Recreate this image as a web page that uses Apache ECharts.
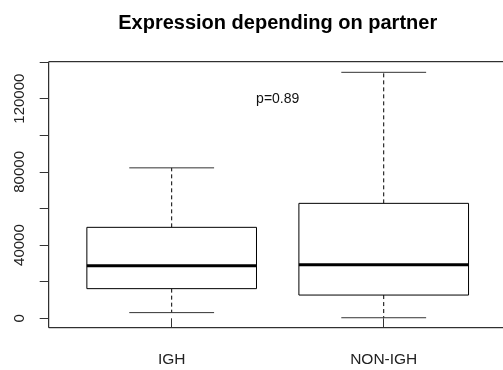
<!DOCTYPE html>
<html>
<head>
<meta charset="utf-8">
<script src="https://cdn.jsdelivr.net/npm/echarts@6/dist/echarts.min.js"></script>
<style>html,body{margin:0;padding:0;background:#fff}#c{width:503px;height:370px}</style>
</head>
<body>
<div id="c"></div>
<script>
// ---- data ----
const categories = ['IGH', 'NON-IGH'];
const lowerWhisker = [3100, 300];
const q1 = [16200, 12700];
const median = [28700, 29300];
const q3 = [49700, 62800];
const upperWhisker = [82200, 134400];
const yTickValues = [0, 20000, 40000, 60000, 80000, 100000, 120000, 140000];
const yLabelValues = [0, 40000, 80000, 120000];
const titleText = 'Expression depending on partner';
const pText = 'p=0.89';
const pPos = [1.5, 120000];

const FONT = '"Liberation Sans", Arial, sans-serif';
const boxData = categories.map((c, i) => [i + 1, lowerWhisker[i], q1[i], median[i], q3[i], upperWhisker[i]]);

const chart = echarts.init(document.getElementById('c'), null, {renderer: 'canvas'});
chart.setOption({
  animation: false,
  backgroundColor: '#fff',
  title: {
    text: titleText,
    left: 277.7, top: 13, padding: 0, textAlign: 'center',
    textStyle: {fontFamily: FONT, fontWeight: 'bold', fontSize: 20, color: '#000'}
  },
  grid: {
    left: 48.7, width: 458, top: 61.7, bottom: 42.3,
    outerBoundsMode: 'none', containLabel: false,
    show: true, borderColor: '#000', borderWidth: 1, backgroundColor: 'transparent'
  },
  xAxis: {
    type: 'value', min: 0.42, max: 2.58,
    axisLine: {show: false},
    splitLine: {show: false},
    axisTick: {show: true, length: 9, customValues: [1, 2], lineStyle: {color: '#333'}},
    axisLabel: {
      customValues: [1, 2], margin: 24, fontSize: 15.5, fontFamily: FONT, color: '#222',
      formatter: v => categories[Math.round(v) - 1]
    }
  },
  yAxis: {
    type: 'value', min: -5140, max: 140200,
    axisLine: {show: false},
    splitLine: {show: false},
    axisTick: {show: true, length: 9, customValues: yTickValues, lineStyle: {color: '#333'}},
    axisLabel: {
      customValues: yLabelValues, rotate: 90, margin: 21, fontSize: 15, fontFamily: FONT, color: '#222',
      formatter: v => String(v)
    }
  },
  series: [
    {
      type: 'custom',
      data: boxData,
      encode: {x: 0, y: [1, 2, 3, 4, 5]},
      renderItem: function (params, api) {
        const x = api.value(0);
        const halfBox = 0.4, halfCap = 0.2;
        const p = (xx, yy) => api.coord([xx, yy]);
        const lw = p(x, api.value(1)), b1 = p(x, api.value(2)), md = p(x, api.value(3)),
              b3 = p(x, api.value(4)), uw = p(x, api.value(5));
        const bl = p(x - halfBox, 0)[0], br = p(x + halfBox, 0)[0];
        const cl = p(x - halfCap, 0)[0], cr = p(x + halfCap, 0)[0];
        const line = (x1, y1, x2, y2, w, dash, col) => ({
          type: 'line', shape: {x1, y1, x2, y2},
          style: {stroke: col || '#000', lineWidth: w, lineDash: dash || null}
        });
        return {
          type: 'group',
          children: [
            line(lw[0], b1[1], lw[0], lw[1], 1, [4, 3]),
            line(uw[0], b3[1], uw[0], uw[1], 1, [4, 3]),
            line(cl, lw[1], cr, lw[1], 1, null, '#333'),
            line(cl, uw[1], cr, uw[1], 1, null, '#333'),
            {type: 'rect', shape: {x: bl, y: b3[1], width: br - bl, height: b1[1] - b3[1]},
             style: {fill: '#fff', stroke: '#000', lineWidth: 1}},
            line(bl, md[1], br, md[1], 3)
          ]
        };
      }
    },
    {
      type: 'custom',
      data: [pPos],
      encode: {x: 0, y: 1},
      renderItem: function (params, api) {
        const c = api.coord([api.value(0), api.value(1)]);
        return {
          type: 'text', x: c[0], y: c[1],
          style: {text: pText, fill: '#111', font: '14px ' + FONT, align: 'center', verticalAlign: 'middle'}
        };
      }
    }
  ]
});
</script>
</body>
</html>
